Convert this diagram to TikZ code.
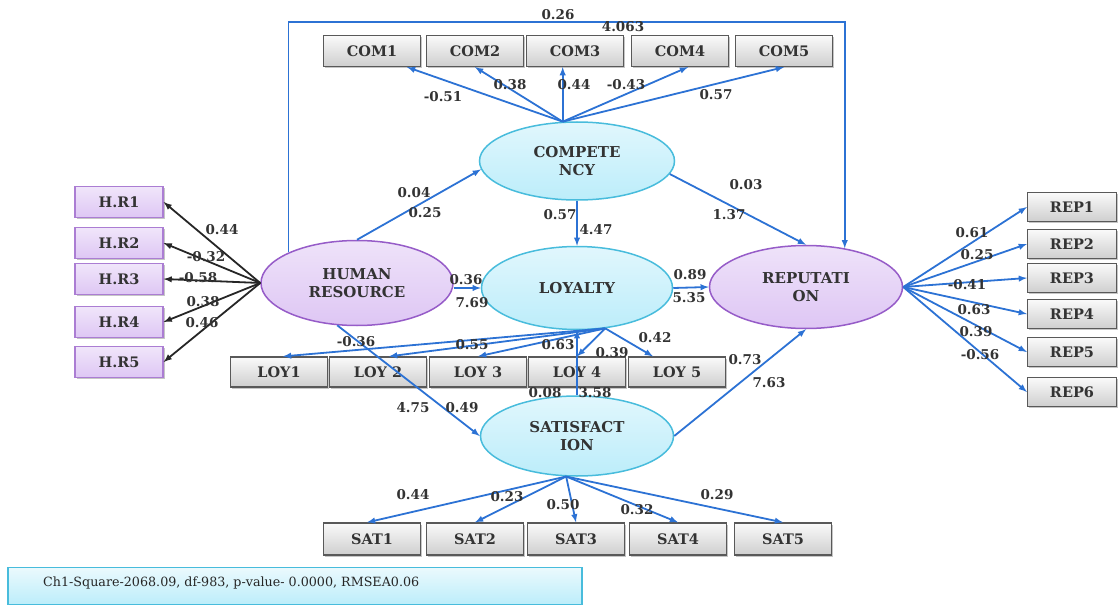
\documentclass[tikz,border=0pt]{standalone}
\usepackage{fontspec}
\setmainfont{DejaVu Serif}
\usetikzlibrary{arrows,shapes.geometric,shadows}

\definecolor{lnkblue}{RGB}{44,114,212}
\definecolor{cyanfill}{RGB}{188,237,250}
\definecolor{cyanedge}{RGB}{72,188,220}
\definecolor{purfill}{RGB}{222,198,244}
\definecolor{puredge}{RGB}{150,92,200}

\begin{document}
\begin{tikzpicture}[x=1pt,y=-1pt,>=latex,
  ind/.style={rectangle,draw=black!65,line width=1.2pt,top color=gray!4,bottom color=gray!38,
    minimum width=97pt,minimum height=31pt,inner sep=0pt,text=black!80,
    font=\bfseries\fontsize{14.5}{16}\selectfont,drop shadow={shadow xshift=1.5pt,shadow yshift=-1.5pt,opacity=0.45}},
  hrind/.style={ind,draw=puredge!80,top color=purfill!45,bottom color=purfill,minimum width=88pt},
  repind/.style={ind,minimum width=89pt,minimum height=29pt},
  cyanlat/.style={ellipse,draw=cyanedge,line width=1.5pt,top color=cyanfill!45,bottom color=cyanfill,
    inner sep=0pt,align=center,text=black!80,font=\bfseries\fontsize{15}{18}\selectfont},
  purlat/.style={cyanlat,draw=puredge,top color=purfill!50,bottom color=purfill},
  lnk/.style={->,lnkblue,line width=1.8pt},
  hrlnk/.style={->,black!85,line width=1.8pt},
  num/.style={inner sep=0pt,text=black!80,font=\bfseries\fontsize{13.5}{15}\selectfont}]
  \useasboundingbox (0,0) rectangle (1119,607);

  % latent variables
  \node[purlat,minimum width=192pt,minimum height=85pt] (hr) at (357,283) {HUMAN\\RESOURCE};
  \node[cyanlat,minimum width=195pt,minimum height=78pt] (comp) at (577,161) {COMPETE\\NCY};
  \node[cyanlat,minimum width=191pt,minimum height=83pt] (loy) at (577,288) {LOYALTY};
  \node[cyanlat,minimum width=193pt,minimum height=80pt] (sat) at (577,436) {SATISFACT\\ION};
  \node[purlat,minimum width=193pt,minimum height=83pt] (rep) at (806,287) {REPUTATI\\ON};

  % indicators
  \node[hrind] (hr1) at (119,202) {H.R1};
  \node[hrind] (hr2) at (119,243) {H.R2};
  \node[hrind] (hr3) at (119,279) {H.R3};
  \node[hrind] (hr4) at (119,322) {H.R4};
  \node[hrind] (hr5) at (119,362) {H.R5};

  \node[ind] (com1) at (372,51) {COM1};
  \node[ind] (com2) at (475,51) {COM2};
  \node[ind] (com3) at (575,51) {COM3};
  \node[ind] (com4) at (680,51) {COM4};
  \node[ind] (com5) at (784,51) {COM5};

  \node[ind,minimum height=30pt] (loy1) at (279,372) {LOY1};
  \node[ind,minimum height=30pt] (loy2) at (378,372) {LOY 2};
  \node[ind,minimum height=30pt] (loy3) at (478,372) {LOY 3};
  \node[ind,minimum height=30pt] (loy4) at (577,372) {LOY 4};
  \node[ind,minimum height=30pt] (loy5) at (677,372) {LOY 5};

  \node[ind,minimum height=32pt] (sat1) at (372,539) {SAT1};
  \node[ind,minimum height=32pt] (sat2) at (475,539) {SAT2};
  \node[ind,minimum height=32pt] (sat3) at (576,539) {SAT3};
  \node[ind,minimum height=32pt] (sat4) at (678,539) {SAT4};
  \node[ind,minimum height=32pt] (sat5) at (783,539) {SAT5};

  \node[repind] (rep1) at (1072,207) {REP1};
  \node[repind] (rep2) at (1072,244) {REP2};
  \node[repind] (rep3) at (1072,278) {REP3};
  \node[repind] (rep4) at (1072,314) {REP4};
  \node[repind] (rep5) at (1072,352) {REP5};
  \node[repind] (rep6) at (1072,392) {REP6};

  % fit statistics
  \node[rectangle,draw=cyanedge,line width=1.2pt,top color=cyanfill!30,bottom color=cyanfill,
    minimum width=574pt,minimum height=37pt,inner sep=0pt] (fit) at (295,586) {};
  \node[anchor=west,inner sep=0pt,text=black!85,font=\fontsize{12.7}{14}\selectfont] (fittxt)
    at (43,583) {Ch1-Square-2068.09, df-983, p-value- 0.0000, RMSEA0.06};

  % structural paths
  \coordinate (topline) at (0,22);
  \draw[lnk] (hr.north west) |- (topline -| rep.45) -- (rep.45);
  \draw[lnk] (hr.north) -- (comp.185);
  \draw[lnk] (hr.east |- loy.west) -- (loy.west);
  \draw[lnk] (hr.-115) -- (sat.west);
  \draw[lnk] (comp.south) -- (loy.north);
  \draw[lnk] (comp.-8) -- (rep.north);
  \draw[lnk] (loy.east) -- (rep.west);
  \draw[lnk] (sat.north) -- (loy.south);
  \draw[lnk] (sat.east) -- (rep.south);

  % measurement paths
  \draw[hrlnk] (hr.west) -- (hr1.east);
  \draw[hrlnk] (hr.west) -- (hr2.east);
  \draw[hrlnk] (hr.west) -- (hr3.east);
  \draw[hrlnk] (hr.west) -- (hr4.east);
  \draw[hrlnk] (hr.west) -- (hr5.east);

  \draw[lnk] (comp.110) -- ([xshift=35pt]com1.south);
  \draw[lnk] (comp.110) -- (com2.south);
  \draw[lnk] (comp.110) -- (com3.south -| comp.110);
  \draw[lnk] (comp.110) -- ([xshift=8pt]com4.south);
  \draw[lnk] (comp.110) -- (com5.south);

  \draw[lnk] (loy.-55) -- ([xshift=4pt]loy1.north);
  \draw[lnk] (loy.-55) -- ([xshift=11pt]loy2.north);
  \draw[lnk] (loy.-55) -- (loy3.north);
  \draw[lnk] (loy.-55) -- (loy4.north);
  \draw[lnk] (loy.-55) -- ([xshift=-24pt]loy5.north);

  \draw[lnk] (sat.-105) -- ([xshift=-5pt]sat1.north);
  \draw[lnk] (sat.-105) -- (sat2.north);
  \draw[lnk] (sat.-105) -- (sat3.north);
  \draw[lnk] (sat.-105) -- (sat4.north);
  \draw[lnk] (sat.-105) -- (sat5.north);

  \draw[lnk] (rep.east) -- (rep1.west);
  \draw[lnk] (rep.east) -- (rep2.west);
  \draw[lnk] (rep.east) -- (rep3.west);
  \draw[lnk] (rep.east) -- (rep4.west);
  \draw[lnk] (rep.east) -- (rep5.west);
  \draw[lnk] (rep.east) -- (rep6.west);

  % estimates
  \node[num] (e1) at (558,15) {0.26};
  \node[num] (e2) at (623,27) {4.063};
  \node[num] (e3) at (443,97) {-0.51};
  \node[num] (e4) at (510,85) {0.38};
  \node[num] (e5) at (574,85) {0.44};
  \node[num] (e6) at (626,85) {-0.43};
  \node[num] (e7) at (716,95) {0.57};
  \node[num] (e8) at (414,193) {0.04};
  \node[num] (e9) at (425,213) {0.25};
  \node[num] (e10) at (746,185) {0.03};
  \node[num] (e11) at (729,215) {1.37};
  \node[num] (e12) at (560,215) {0.57};
  \node[num] (e13) at (596,230) {4.47};
  \node[num] (e14) at (466,280) {0.36};
  \node[num] (e15) at (472,303) {7.69};
  \node[num] (e16) at (690,275) {0.89};
  \node[num] (e17) at (689,298) {5.35};
  \node[num] (e18) at (222,230) {0.44};
  \node[num] (e19) at (206,257) {-0.32};
  \node[num] (e20) at (198,278) {-0.58};
  \node[num] (e21) at (203,302) {0.38};
  \node[num] (e22) at (202,323) {0.46};
  \node[num] (e23) at (356,342) {-0.36};
  \node[num] (e24) at (472,345) {0.55};
  \node[num] (e25) at (558,345) {0.63};
  \node[num] (e26) at (612,353) {0.39};
  \node[num] (e27) at (655,338) {0.42};
  \node[num] (e28) at (413,408) {4.75};
  \node[num] (e29) at (462,408) {0.49};
  \node[num] (e30) at (545,393) {0.08};
  \node[num] (e31) at (595,393) {3.58};
  \node[num] (e32) at (745,360) {0.73};
  \node[num] (e33) at (769,383) {7.63};
  \node[num] (e34) at (413,495) {0.44};
  \node[num] (e35) at (507,497) {0.23};
  \node[num] (e36) at (563,505) {0.50};
  \node[num] (e37) at (637,510) {0.32};
  \node[num] (e38) at (717,495) {0.29};
  \node[num] (e39) at (972,233) {0.61};
  \node[num] (e40) at (977,255) {0.25};
  \node[num] (e41) at (967,285) {-0.41};
  \node[num] (e42) at (974,310) {0.63};
  \node[num] (e43) at (976,332) {0.39};
  \node[num] (e44) at (980,355) {-0.56};
\end{tikzpicture}
\end{document}
